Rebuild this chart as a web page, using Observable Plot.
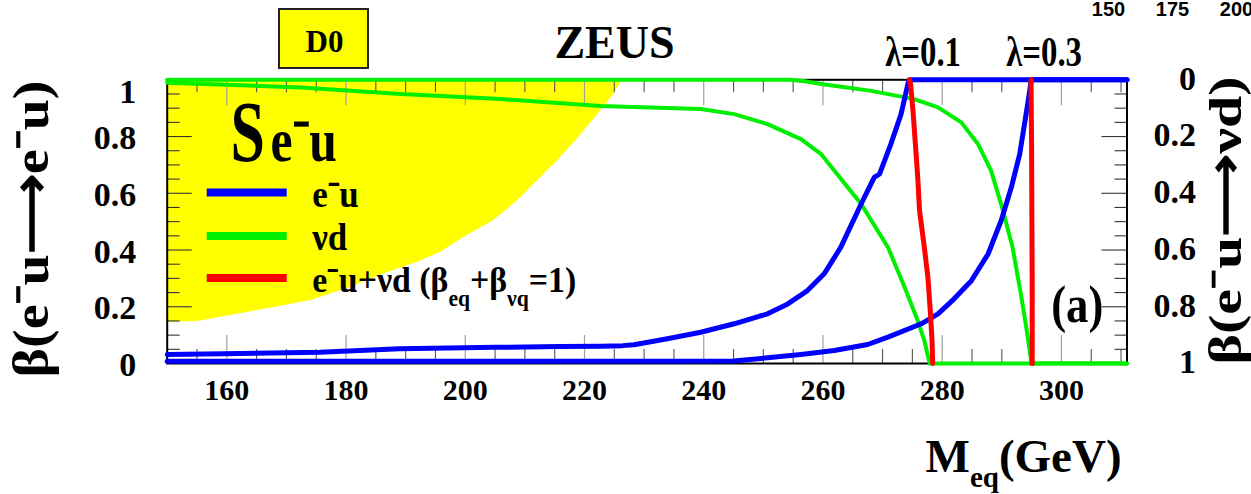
<!DOCTYPE html>
<html>
<head>
<meta charset="utf-8">
<script src="https://cdn.jsdelivr.net/npm/d3@7"></script>
<script src="https://cdn.jsdelivr.net/npm/@observablehq/plot@0.6"></script>
<style>
  html, body { margin: 0; padding: 0; background: #fff; }
  #chart { width: 1251px; height: 494px; overflow: hidden; }
</style>
</head>
<body>
<div id="chart"></div>
<script>
// Points along each curve: [M_eq (GeV), beta]

// D0 excluded region: lower edge of the yellow band, beta(e-u -> e-u)
const d0Limit = [
  [150, 0.145], [155, 0.148], [160.6, 0.169], [166.8, 0.193], [174.1, 0.222],
  [180.8, 0.269], [186.4, 0.316], [192, 0.357], [195.9, 0.392], [199.8, 0.445],
  [204.8, 0.504], [208.8, 0.574], [212.1, 0.644], [215.5, 0.715], [218.8, 0.791],
  [221.6, 0.862], [223.9, 0.92], [225.3, 0.961], [226.1, 0.99], [226.4, 1]
];

// ZEUS limit, e-u channel, beta(e-u -> e-u), lambda = 0.1
const euLambda01 = [
  [150, 0.032], [159.5, 0.034], [175.6, 0.04], [189, 0.052], [205, 0.057],
  [215.7, 0.06], [222.7, 0.061], [226.4, 0.063], [228.3, 0.066], [233.9, 0.087],
  [239.5, 0.11], [245.1, 0.14], [250.7, 0.175], [254.1, 0.21], [257.4, 0.257],
  [260.2, 0.316], [263, 0.41], [266.4, 0.562], [268.6, 0.656], [269.5, 0.668],
  [271.4, 0.774], [273.1, 0.879], [274.3, 0.99], [274.5, 1], [311, 1]
];

// ZEUS limit, e-u channel, lambda = 0.3
const euLambda03 = [
  [150, 0.008], [200, 0.008], [245, 0.009], [250.7, 0.02], [256.3, 0.032],
  [261.9, 0.046], [267.5, 0.067], [270.9, 0.093], [276.5, 0.14], [279.3, 0.175],
  [282, 0.228], [284.9, 0.292], [287.7, 0.386], [289.9, 0.504], [291.6, 0.621],
  [293, 0.738], [293.9, 0.856], [294.6, 0.95], [294.9, 0.995], [295, 1], [311, 1]
];

// ZEUS limit, nu-d channel, beta(e-u -> nu d) on the right-hand axis, lambda = 0.1
const nudLambda01 = [
  [150, 0.01], [172.4, 0.027], [189.2, 0.05], [206, 0.068], [222.7, 0.092],
  [239.5, 0.103], [245.1, 0.121], [250.7, 0.156], [256.3, 0.209], [259.7, 0.262],
  [266.4, 0.438], [270.9, 0.59], [273.7, 0.731], [275.9, 0.849], [277, 0.919],
  [277.9, 1], [311, 1]
];

// ZEUS limit, nu-d channel, lambda = 0.3
const nudLambda03 = [
  [150, 0], [254.6, 0], [257, 0.005], [259.7, 0.015], [268.1, 0.039], [275.3, 0.068],
  [279.3, 0.097], [283.2, 0.15], [286, 0.226], [288.2, 0.32], [290.2, 0.461],
  [291.8, 0.59], [293.2, 0.755], [294.1, 0.872], [294.8, 0.972], [295, 1], [311, 1]
];

// Combined e-u + nu-d limit (beta_eq + beta_nuq = 1), lambda = 0.1 and 0.3
const sumLambda01 = [
  [274.5, 1], [274.7, 0.985], [275.1, 0.891], [275.5, 0.774], [275.9, 0.656],
  [276.2, 0.539], [277, 0.41], [277.6, 0.304], [278, 0.187], [278.3, 0.081], [278.4, 0]
];
const sumLambda03 = [
  [294.9, 1], [295, 0.75], [295.05, 0.5], [295.1, 0.25], [295.1, 0]
];

// Axis labels
const xTickLabels = [160, 180, 200, 220, 240, 260, 280, 300];
const yTickLabels = [0, 0.2, 0.4, 0.6, 0.8, 1];
const rightTickLabels = [0, 0.2, 0.4, 0.6, 0.8, 1];
const stripLabels = ["150", "175", "200"];
const couplings = [
  {m: 276.8, label: "λ=0.1"},
  {m: 297.1, label: "λ=0.3"}
];

// ---------------------------------------------------------------------------
const W = 1251, H = 494;
const M = {top: 79.3, right: 124.5, bottom: 131, left: 166.7};
const xDomain = [150, 311];
const plotW = W - M.left - M.right;
const plotH = H - M.top - M.bottom;
const pxPerGeV = plotW / (xDomain[1] - xDomain[0]);
const serif = '"Liberation Serif", "Times New Roman", Times, serif';

const BLUE = "#0000ff", GREEN = "#00ee00", RED = "#ff0000", YELLOW = "#ffff00";

// tick positions
const xMinor = d3.range(155, 311, 5).filter(v => v % 20 !== 0);
const yMajor = [0.2, 0.4, 0.6, 0.8];
const yMinor = d3.range(1, 20).filter(i => i % 4 !== 0).map(i => i / 20);
const gev = px => px / pxPerGeV;      // tick length in GeV
const unit = px => px / plotH;        // tick length in beta units

// one text placed relative to the frame's top-left corner, baseline at py
function note(str, px, py, {size = 30, anchor = "start", rotate, cls, family = serif, weight = "bold", line = "bottom"} = {}) {
  return Plot.text([str], {
    text: d => d,
    frameAnchor: "top-left",
    dx: px - M.left, dy: py - M.top,
    textAnchor: anchor, lineAnchor: line,
    fontSize: size, fontFamily: family, fontWeight: weight,
    rotate, className: cls, fill: "#000"
  });
}

const line = (data, stroke, width, flip = false) =>
  Plot.line(data, {x: d => d[0], y: d => flip ? 1 - d[1] : d[1], stroke, strokeWidth: width, curve: "linear"});

const xLo = xDomain[0], xHi = xDomain[1];

const plot = Plot.plot({
  width: W, height: H,
  marginTop: M.top, marginRight: M.right, marginBottom: M.bottom, marginLeft: M.left,
  x: {domain: xDomain, axis: null},
  y: {domain: [0, 1], axis: null},
  style: {background: "#fff", overflow: "visible"},
  marks: [
    // D0 excluded region
    Plot.areaY(d0Limit, {x: d => d[0], y1: d => d[1], y2: 1, fill: YELLOW, curve: "linear"}),

    // inward ticks on all four sides
    Plot.ruleX(xTickLabels, {x: d => d, y1: 0, y2: unit(28), stroke: "#a0a0a0", strokeWidth: 1.2}),
    Plot.ruleX(xTickLabels, {x: d => d, y1: 1, y2: 1 - unit(26), stroke: "#a0a0a0", strokeWidth: 1.2}),
    Plot.ruleX(xMinor, {x: d => d, y1: 0, y2: unit(14), stroke: "#555", strokeWidth: 1.1}),
    Plot.ruleX(xMinor, {x: d => d, y1: 1, y2: 1 - unit(13), stroke: "#555", strokeWidth: 1.1}),
    Plot.ruleY(yMajor, {y: d => d, x1: xLo, x2: xLo + gev(25), stroke: "#333", strokeWidth: 1.1}),
    Plot.ruleY(yMinor, {y: d => d, x1: xLo, x2: xLo + gev(13), stroke: "#333", strokeWidth: 1.1}),
    Plot.ruleY(yMajor, {y: d => d, x1: xHi, x2: xHi - gev(25), stroke: "#333", strokeWidth: 1.1}),
    Plot.ruleY(yMinor, {y: d => d, x1: xHi, x2: xHi - gev(12), stroke: "#333", strokeWidth: 1.1}),

    Plot.frame({stroke: "#000", strokeWidth: 2}),

    // limit curves
    line(nudLambda03, GREEN, 4, true),
    line(nudLambda01, GREEN, 4, true),
    line(euLambda03, BLUE, 5),
    line(euLambda01, BLUE, 5),
    line(sumLambda01, RED, 5),
    line(sumLambda03, RED, 5),

    // tick labels
    Plot.text(xTickLabels, {x: d => d, y: 0, text: d => String(d), textAnchor: "middle", lineAnchor: "middle",
      dy: 27.3, fontSize: 30, fontFamily: serif, fontWeight: "bold", fill: "#000"}),
    Plot.text(yTickLabels.filter(v => v === 1), {x: xLo, y: d => d, text: d => String(d), textAnchor: "end", lineAnchor: "middle",
      dx: -31, dy: 12, fontSize: 34, fontFamily: serif, fontWeight: "bold", fill: "#000"}),
    Plot.text(yTickLabels.filter(v => v !== 1), {x: xLo, y: d => d, text: d => String(d), textAnchor: "end", lineAnchor: "middle",
      dx: -31, dy: 1.7, fontSize: 34, fontFamily: serif, fontWeight: "bold", fill: "#000"}),
    Plot.text(rightTickLabels, {x: xHi, y: d => 1 - d, text: d => String(d), textAnchor: "end", lineAnchor: "middle",
      dx: 69, dy: -1, fontSize: 34, fontFamily: serif, fontWeight: "bold", fill: "#000"}),

    // coupling labels above the frame
    Plot.text(couplings, {x: "m", text: "label", frameAnchor: "top", textAnchor: "middle", lineAnchor: "bottom",
      dy: 65 - M.top, fontSize: 42, fontFamily: serif, fontWeight: "bold", fill: "#000", className: "coupling-labels"}),

    // titles and annotations
    note("ZEUS", 614, 57, {size: 46, anchor: "middle", cls: "experiment"}),
    note("D0", 324, 51.7, {size: 31, anchor: "middle", cls: "d0-tag"}),
    note("(a)", 1076.7, 321, {size: 52, anchor: "middle", cls: "panel-letter"}),
    note("S", 230, 160, {size: 86, cls: "legend-heading-s"}),
    note("e⁻u", 270, 160, {size: 62, cls: "legend-heading-channel"}),
    note("e⁻u", 311.7, 206.7, {size: 38, cls: "legend-entry"}),
    note("νd", 311.7, 249.3, {size: 38, cls: "legend-entry"}),
    note("e⁻u+νd (βeq+βνq=1)", 311.7, 291.7, {size: 36, cls: "legend-sum"}),
    note("β(e⁻u⟶e⁻u)", 31, 228.5, {size: 50, anchor: "middle", line: "middle", rotate: -90, cls: "left-title"}),
    note("β(e⁻u⟶νd)", 1226, 220, {size: 46, anchor: "middle", line: "middle", rotate: -90, cls: "right-title"}),
    note("Meq(GeV)", 925, 471.7, {size: 47, cls: "x-title"}),
    ...stripLabels.map((s, i) => note(s, 1108 + 64 * i, 15.5, {size: 20, anchor: "middle", family: '"Liberation Sans", Arial, sans-serif', cls: "strip"}))
  ]
});

// ---------------------------------------------------------------------------
// Lettering width: compress (or stretch) annotation texts along their direction, about the anchor
const squeeze = {
  "coupling-labels": 0.78,
  "legend-heading-s": 0.72,
  "legend-heading-channel": 0.8,
  "panel-letter": 0.86,
  "legend-entry": 0.92,
  "legend-sum": 0.94,
  "left-title": 1.12,
  "right-title": 1.26
};
for (const [cls, f] of Object.entries(squeeze)) {
  plot.querySelectorAll(`.${cls} text`).forEach(t => {
    t.setAttribute("transform", (t.getAttribute("transform") || "") + ` scale(${f},1)`);
  });
}

// Subscripts via tspans
const SVGNS = "http://www.w3.org/2000/svg";
function enrich(cls, parts, subSize, shift) {
  plot.querySelectorAll(`.${cls} text`).forEach(t => {
    t.textContent = "";
    let down = false;
    for (const [s, role] of parts) {
      const ts = document.createElementNS(SVGNS, "tspan");
      ts.textContent = s;
      if (role === "sub") {
        ts.setAttribute("font-size", subSize);
        if (!down) ts.setAttribute("dy", shift);
        down = true;
      } else {
        if (down) ts.setAttribute("dy", -shift);
        down = false;
      }
      t.appendChild(ts);
    }
  });
}
enrich("legend-sum", [["e⁻u+νd (β"], ["eq", "sub"], ["+β"], ["νq", "sub"], ["=1)"]], 23, 14);
enrich("x-title", [["M"], ["eq", "sub"], ["(GeV)"]], 29, 15);

// D0 tag box and legend swatches
const svg = d3.select(plot);
const deco = svg.insert("g", ":scope > :nth-child(2)").attr("aria-label", "d0 box");
deco.append("rect").attr("x", 279).attr("y", 9).attr("width", 89).attr("height", 59)
  .attr("fill", YELLOW).attr("stroke", "#222").attr("stroke-width", 2);

const legend = svg.append("g").attr("aria-label", "legend swatches");
[[BLUE, 192.5], [GREEN, 236], [RED, 278]].forEach(([c, y]) => {
  legend.append("line").attr("x1", 206.7).attr("x2", 286.7).attr("y1", y).attr("y2", y)
    .attr("stroke", c).attr("stroke-width", 8);
});

document.getElementById("chart").appendChild(plot);
</script>
</body>
</html>
